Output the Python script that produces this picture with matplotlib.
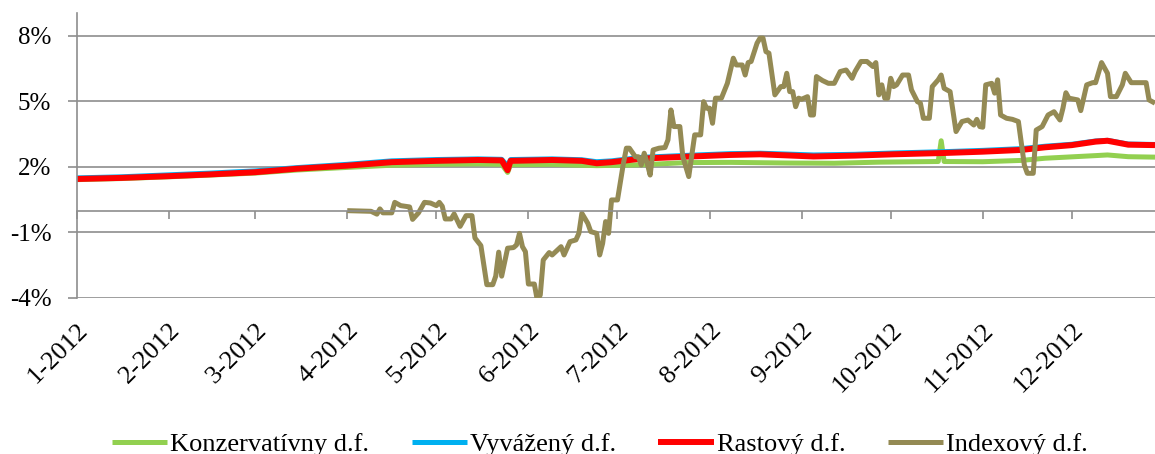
import pandas as pd
import matplotlib.pyplot as plt

plt.rcParams['font.family'] = ['Liberation Serif', 'DejaVu Serif']

# ---------------- SETTINGS ----------------
W, H, DPI = 1155, 454, 100
GRID_GRAY = "#8E8E8E"
START = pd.Timestamp("2012-01-01")
# ------------------------------------------

# day of year (0 = 1 Jan 2012) and value in %
kons_day = [0, 15, 31, 45, 60, 74, 91, 106, 121, 135, 143, 145, 146, 160, 175,
            190, 205, 220, 240, 255, 270, 290, 291, 292, 305, 318, 326, 343,
            347, 354, 363]
kons_val = [1.42, 1.47, 1.55, 1.63, 1.72, 1.86, 1.98, 2.08, 2.12, 2.14, 2.12,
            1.75, 2.10, 2.12, 2.06, 2.10, 2.20, 2.21, 2.18, 2.17, 2.22, 2.25,
            3.20, 2.25, 2.24, 2.30, 2.40, 2.52, 2.55, 2.47, 2.45]

smooth_day = [0, 15, 31, 45, 60, 74, 91, 106, 121, 135, 143, 145, 146, 160,
              170, 175, 180, 190, 205, 220, 230, 248, 262, 275, 292, 305, 318,
              326, 335, 343, 347, 354, 363]
vyv_val = [1.50, 1.55, 1.64, 1.72, 1.82, 1.97, 2.12, 2.28, 2.34, 2.37, 2.35,
           2.05, 2.34, 2.37, 2.33, 2.24, 2.28, 2.44, 2.53, 2.61, 2.63, 2.55,
           2.58, 2.64, 2.70, 2.76, 2.84, 2.95, 3.04, 3.19, 3.22, 3.05, 3.03]
rast_val = [1.45, 1.50, 1.58, 1.66, 1.76, 1.92, 2.06, 2.22, 2.28, 2.32, 2.30,
            1.85, 2.28, 2.32, 2.28, 2.17, 2.22, 2.38, 2.47, 2.55, 2.58, 2.48,
            2.52, 2.58, 2.64, 2.70, 2.78, 2.90, 3.00, 3.16, 3.20, 3.02, 3.00]

idx_day = [91, 99, 101, 102, 103, 106, 107, 109, 112, 113, 115, 117, 119, 121,
           122, 123, 124, 126, 127, 129, 131, 133, 134, 136, 138, 140, 141, 142,
           143, 145, 147, 148, 149, 150, 151, 152, 154, 155, 156, 157, 159, 160,
           163, 164, 166, 168, 169, 170, 172, 173, 175, 176, 177, 178, 179, 180,
           182, 184, 185, 186, 188, 189, 190, 191, 192, 193, 194, 196, 198, 199,
           200, 201, 203, 204, 206, 208, 210, 211, 212, 213, 214, 215, 217, 219,
           221, 222, 224, 225, 226, 227, 229, 230, 231, 232, 233, 235, 237, 238,
           239, 240, 241, 242, 243, 244, 246, 247, 248, 249, 251, 253, 255, 257,
           259, 261, 262, 263, 264, 266, 268, 269, 270, 271, 272, 273, 274, 275,
           276, 278, 280, 281, 283, 284, 285, 287, 288, 290, 291, 292, 294, 296,
           298, 300, 302, 303, 304, 305, 306, 308, 309, 310, 311, 313, 315, 317,
           319, 320, 322, 323, 325, 327, 329, 331, 332, 333, 334, 337, 338, 340,
           342, 343, 345, 347, 348, 350, 352, 353, 355, 360, 361, 363]
idx_val = [0.00, -0.03, -0.16, 0.08, -0.10, -0.10, 0.38, 0.23, 0.17, -0.40,
           -0.10, 0.38, 0.35, 0.23, 0.38, 0.20, -0.38, -0.38, -0.15, -0.72,
           -0.23, -0.23, -1.25, -1.60, -3.39, -3.39, -3.00, -1.90, -3.00, -1.72,
           -1.69, -1.57, -1.04, -1.65, -1.88, -3.36, -3.36, -4.10, -3.86, -2.26,
           -1.92, -2.03, -1.65, -2.03, -1.42, -1.34, -1.04, -0.12, -0.58, -0.96,
           -1.04, -2.03, -1.50, -0.50, -1.04, 0.49, 0.49, 2.17, 2.86, 2.86, 2.47,
           2.47, 2.09, 2.63, 2.17, 1.63, 2.78, 2.86, 2.89, 3.24, 4.61, 3.85,
           3.85, 2.47, 1.56, 3.47, 3.47, 4.99, 4.69, 4.69, 4.00, 5.15, 5.15,
           5.83, 6.98, 6.67, 6.67, 6.21, 6.78, 6.83, 7.67, 7.90, 7.90, 7.28,
           7.21, 5.30, 5.68, 5.68, 6.29, 5.45, 5.45, 4.76, 5.15, 5.10, 5.22,
           4.38, 4.38, 6.14, 5.96, 5.83, 5.83, 6.37, 6.44, 6.06, 6.37, 6.60,
           6.83, 6.83, 6.60, 6.78, 5.30, 5.76, 5.15, 5.15, 6.06, 5.68, 5.76,
           6.21, 6.21, 5.53, 4.99, 4.92, 4.23, 4.23, 5.68, 5.99, 6.21, 5.60,
           5.45, 3.62, 4.08, 4.15, 3.92, 4.18, 3.85, 3.82, 5.76, 5.83, 5.38,
           5.99, 4.38, 4.23, 4.18, 4.08, 2.09, 1.71, 1.71, 3.69, 3.85, 4.38,
           4.53, 4.15, 4.69, 5.40, 5.15, 5.07, 4.58, 5.76, 5.86, 5.86, 6.78,
           6.29, 5.22, 5.22, 5.76, 6.29, 5.86, 5.86, 5.07, 4.92]

series = [
    ("Konzervatívny d.f.", kons_day, kons_val, "#92D050", 3.6),
    ("Vyvážený d.f.", smooth_day, vyv_val, "#00B0F0", 3.6),
    ("Rastový d.f.", smooth_day, rast_val, "#FF0000", 4.3),
    ("Indexový d.f.", idx_day, idx_val, "#948A54", 3.6),
]

months = pd.date_range("2012-01-01", periods=12, freq="MS")
month_labels = [f"{m.month}-2012" for m in months]
y_ticks = [-4, -1, 2, 5, 8]
y_labels = [f"{v}%" for v in y_ticks]

fig = plt.figure(figsize=(W / DPI, H / DPI), dpi=DPI)
ax = fig.add_axes([77 / W, 156 / H, 1 - 77 / W, 285 / H])

for name, days, vals, color, lw in series:
    dates = START + pd.to_timedelta(days, unit="D")
    ax.plot(dates, vals, color=color, lw=lw, label=name,
            solid_joinstyle="round", solid_capstyle="butt")

ax.set_xlim(START, START + pd.Timedelta(days=363))
ax.set_ylim(-4, 9.05)

# y axis
ax.set_yticks(y_ticks)
ax.set_yticklabels(y_labels, fontsize=18)
ax.yaxis.grid(True, color=GRID_GRAY, lw=1.2)
ax.tick_params(axis="y", direction="out", length=6.5, width=1.2,
               color=GRID_GRAY, pad=12)
for s in ["top", "right"]:
    ax.spines[s].set_visible(False)
ax.spines["left"].set_color(GRID_GRAY)
ax.spines["left"].set_linewidth(1.2)

# horizontal axis sits at 0 %, labels stay at the bottom
ax.spines["bottom"].set_position(("data", 0))
ax.spines["bottom"].set_color(GRID_GRAY)
ax.spines["bottom"].set_linewidth(1.2)
ax.set_xticks(months)
ax.tick_params(axis="x", direction="out", length=6, width=1.2,
               color=GRID_GRAY, labelbottom=False)

sec = ax.secondary_xaxis("bottom")
sec.set_xticks(months)
sec.set_xticklabels(month_labels, fontsize=19, rotation=45, ha="right",
                    rotation_mode="anchor")
sec.tick_params(length=0, pad=15)
sec.spines["bottom"].set_visible(False)
ax.set_axisbelow(True)

fig.legend(loc="center", bbox_to_anchor=(600 / W, 10 / H), ncol=4,
           frameon=False, fontsize=19, handlelength=2.1, handletextpad=0.12,
           columnspacing=1.6, borderpad=0)

plt.savefig("out.png", dpi=DPI)
